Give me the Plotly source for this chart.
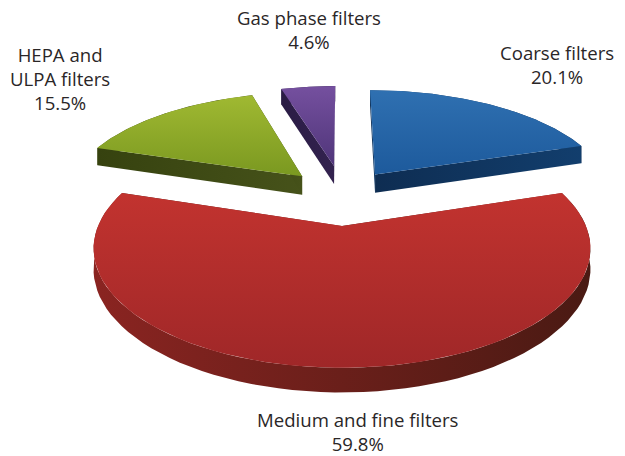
"""Exploded 3D-look pie chart of filter market shares, drawn with filled scatter traces."""
import numpy as np
import plotly.graph_objects as go

# ── Data ──────────────────────────────────────────────────────────────────────
LABELS = ["Coarse filters", "Medium and fine filters", "HEPA and<br>ULPA filters", "Gas phase filters"]
SHARES = [20.1, 59.8, 15.5, 4.6]

# ── Projection of the tilted disc onto the page (pixels) ──────────────────────
CX, CY = 342, 226
RX, RY = 244, 115
PERSP = 0.189
DEPTH = 20

# explosion of each slice, in disc radii, right / away from the viewer
PULL = [(0.148, 0.49), (0.0, 0.0), (-0.178, 0.47), (-0.036, 0.58)]
RADIUS = [1.03, 1.0, 1.02, 1.0]

TOP_COLORS = [("#2f70b1", "#1d5a9c"), ("#c2332f", "#9f2728"), ("#a0b932", "#7a9820"), ("#75509f", "#4f3579")]
WALL_COLORS = [("#123e6d", "#0e2d52"), ("#8a2421", "#4a1a13"), ("#46521a", "#36420f"), ("#33224f", "#2a1c44")]

LABEL_POS = [(557, 64), (358, 431), (60, 78), (309, 29)]


def project(x, y, z=0.0):
    s = 1 / (1 + PERSP * y)
    return CX + RX * x * s, CY - RY * y * s + z * s


def wall_trace(xs, ys, colors):
    return go.Scatter(
        x=xs, y=ys, mode="lines", fill="toself", line=dict(width=0),
        fillgradient=dict(type="horizontal", colorscale=[[0, colors[0]], [1, colors[1]]]),
        hoverinfo="skip", showlegend=False,
    )


fig = go.Figure()

start = 0.0
slices = []
for share, pull, radius in zip(SHARES, PULL, RADIUS):
    sweep = share / sum(SHARES) * 2 * np.pi
    t = np.linspace(start, start + sweep, 80)
    slices.append((radius * np.sin(t) + pull[0], radius * np.cos(t) + pull[1], pull))
    start += sweep

# walls first, the top faces go over them
for (rim_x, rim_y, pull), colors in zip(slices, WALL_COLORS):
    # rim wall
    tx, ty = project(rim_x, rim_y)
    bx, by = project(rim_x, rim_y, DEPTH)
    fig.add_trace(wall_trace(np.r_[tx, bx[::-1]], np.r_[ty, by[::-1]], colors))
    # the two radial walls
    for i in (0, -1):
        ex = np.array([pull[0], rim_x[i]])
        ey = np.array([pull[1], rim_y[i]])
        tx, ty = project(ex, ey)
        bx, by = project(ex, ey, DEPTH)
        fig.add_trace(wall_trace(np.r_[tx, bx[::-1]], np.r_[ty, by[::-1]], colors[::-1]))

for (rim_x, rim_y, pull), colors, label, share in zip(slices, TOP_COLORS, LABELS, SHARES):
    px_, py_ = project(np.r_[pull[0], rim_x], np.r_[pull[1], rim_y])
    fig.add_trace(go.Scatter(
        x=px_, y=py_, mode="lines", fill="toself", line=dict(width=0),
        # the colorscale runs bottom to top on the page
        fillgradient=dict(type="vertical", colorscale=[[0, colors[1]], [1, colors[0]]]),
        name=label.replace("<br>", " "), text=f"{share}%", hoverinfo="name+text", showlegend=False,
    ))

for label, share, (lx, ly) in zip(LABELS, SHARES, LABEL_POS):
    fig.add_annotation(
        x=lx, y=ly, text=f"{label}<br>{share}%", showarrow=False,
        font=dict(family="Open Sans, sans-serif", size=18.6, color="#2a2627"),
    )

fig.update_layout(
    width=625, height=456,
    margin=dict(l=0, r=0, t=0, b=0),
    paper_bgcolor="white", plot_bgcolor="white",
    xaxis=dict(range=[0, 625], visible=False),
    yaxis=dict(range=[456, 0], visible=False),
)
# page body has an 8px margin by default, which would push the chart off the window
fig.write_html("out.html", config=dict(displayModeBar=False), post_script="document.body.style.margin='0';")
